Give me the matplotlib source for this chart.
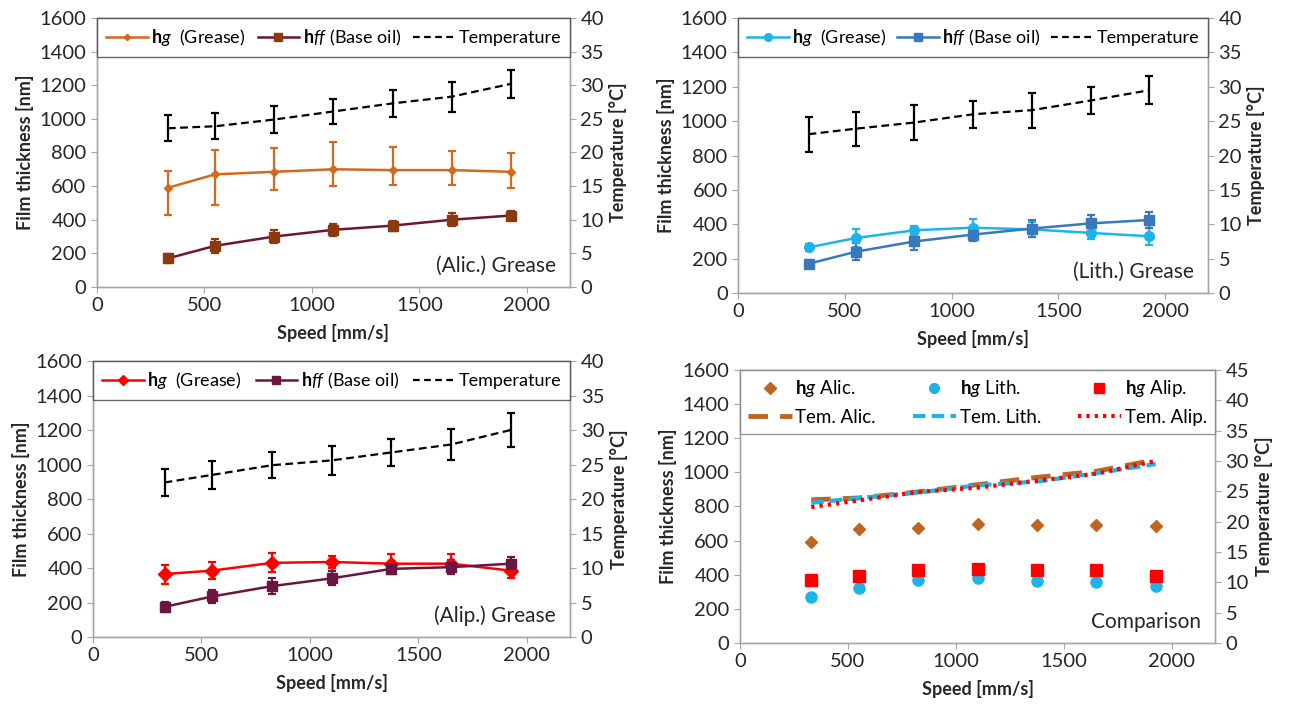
import matplotlib
matplotlib.use("Agg")
import matplotlib.pyplot as plt
from matplotlib.lines import Line2D

plt.rcParams['font.family'] = ['Lato', 'DejaVu Sans']
plt.rcParams['mathtext.fontset'] = 'custom'
plt.rcParams['mathtext.rm'] = 'Lato'
plt.rcParams['mathtext.it'] = 'Lato:italic'
plt.rcParams['mathtext.bf'] = 'Lato:bold'

# speeds [mm/s]
speed = [330, 550, 825, 1100, 1375, 1650, 1925]

# (Alic.) grease
alic_hg = [590, 670, 685, 700, 695, 695, 685]
alic_hg_lo = [160, 180, 110, 100, 90, 90, 95]
alic_hg_hi = [100, 145, 140, 160, 140, 115, 110]
alic_hff = [170, 245, 300, 340, 365, 400, 425]
alic_hff_err = [25, 40, 40, 35, 30, 40, 25]
alic_temp = [23.6, 23.9, 24.9, 26.1, 27.3, 28.3, 30.2]
alic_temp_err = [1.9, 1.9, 2.0, 1.8, 2.05, 2.25, 2.1]

# (Lith.) grease
lith_hg = [265, 320, 365, 380, 370, 350, 330]
lith_hg_err = [20, 50, 25, 50, 45, 35, 50]
lith_hff = [170, 240, 300, 340, 375, 405, 425]
lith_hff_err = [20, 50, 50, 35, 50, 50, 45]
lith_temp = [23.1, 23.9, 24.8, 26.0, 26.6, 28.0, 29.5]
lith_temp_err = [2.55, 2.5, 2.5, 2.0, 2.55, 2.0, 2.0]

# (Alip.) grease
alip_hg = [365, 385, 430, 435, 425, 425, 385]
alip_hg_err = [55, 50, 55, 35, 55, 55, 40]
alip_hff = [175, 235, 295, 340, 395, 405, 425]
alip_hff_err = [30, 35, 45, 40, 30, 40, 40]
alip_temp = [22.4, 23.5, 24.9, 25.6, 26.75, 27.9, 30.0]
alip_temp_err = [1.9, 2.05, 1.9, 2.05, 2.0, 2.2, 2.4]

# comparison panel
cmp_alic = [590, 670, 675, 700, 690, 690, 685]
cmp_lith = [270, 325, 370, 380, 365, 355, 335]
cmp_alip = [370, 390, 430, 435, 425, 430, 390]

GRID = '#A6A6A6'
TXT = '#262626'
HG = r'$\mathbf{h}\mathit{g}$'
HFF = r'$\mathbf{h}\mathit{ff}$'

fig = plt.figure(figsize=(12.91, 7.10), dpi=100)


def style_axes(ax, ax2, tmax):
    ax.set_xlim(0, 2200)
    ax.set_ylim(0, 1600)
    ax.set_xticks([0, 500, 1000, 1500, 2000])
    ax.set_yticks(range(0, 1601, 200))
    ax2.set_ylim(0, tmax)
    ax2.set_yticks(range(0, tmax + 1, 5))
    for a in (ax, ax2):
        for s in a.spines.values():
            s.set_color(GRID)
            s.set_linewidth(1.0)
        a.tick_params(direction='out', length=4, color=GRID, labelsize=14.5, labelcolor=TXT)
    ax.set_xlabel('Speed [mm/s]', fontsize=13, fontweight='bold', color=TXT, labelpad=7)
    ax.set_ylabel('Film thickness [nm]', fontsize=13, fontweight='bold', color=TXT, labelpad=4)
    ax2.set_ylabel('Temperature [°C]', fontsize=13, fontweight='bold', color=TXT, labelpad=4)


def grease_panel(rect, hg, hg_err, hff, hff_err, temp, temp_err, c_hg, m_hg, ms_hg,
                 c_hff, c_hff_m, label):
    ax = fig.add_axes(rect)
    ax2 = ax.twinx()
    ax.errorbar(speed, hg, yerr=hg_err, color=c_hg, marker=m_hg, ms=ms_hg, lw=1.8,
                elinewidth=1.6, capsize=3, capthick=1.6, zorder=3)
    ax.errorbar(speed, hff, yerr=hff_err, color=c_hff, marker='s', ms=7, mfc=c_hff_m,
                mec=c_hff_m, ecolor=c_hff_m, lw=1.8, elinewidth=1.6, capsize=3,
                capthick=1.6, zorder=3)
    ax2.errorbar(speed, temp, yerr=temp_err, color='black', ls=(0, (3.5, 2)), lw=1.6,
                 elinewidth=1.6, capsize=3, capthick=1.6)
    style_axes(ax, ax2, 40)
    handles = [
        Line2D([], [], color=c_hg, marker=m_hg, ms=ms_hg * 0.8, lw=1.8),
        Line2D([], [], color=c_hff, marker='s', ms=6, mfc=c_hff_m, mec=c_hff_m, lw=1.8),
        Line2D([], [], color='black', ls=(0, (3, 2)), lw=1.6),
    ]
    labels = [HG + '  (Grease)', HFF + ' (Base oil)', 'Temperature']
    leg = ax2.legend(handles, labels, loc='upper left', bbox_to_anchor=(0, 0, 1, 1),
                     mode='expand', ncol=3, fontsize=13, frameon=True, fancybox=False,
                     borderaxespad=0, handlelength=2.3, handletextpad=0.2,
                     columnspacing=0.5, borderpad=0.5)
    leg.get_frame().set_edgecolor('#404040')
    leg.get_frame().set_linewidth(1.0)
    ax2.text(0.97, 0.04, label, transform=ax2.transAxes, ha='right', va='bottom',
             fontsize=15, color=TXT)
    return ax, ax2


grease_panel([0.0751, 0.5958, 0.3664, 0.3789], alic_hg, [alic_hg_lo, alic_hg_hi],
             alic_hff, alic_hff_err, alic_temp, alic_temp_err,
             '#D2691E', 'D', 4, '#6E1437', '#8B3A0E', '(Alic.) Grease')
grease_panel([0.5717, 0.5873, 0.3640, 0.3873], lith_hg, lith_hg_err,
             lith_hff, lith_hff_err, lith_temp, lith_temp_err,
             '#1EB4EA', 'o', 7, '#3A78BC', '#3A78BC', '(Lith.) Grease')
grease_panel([0.0720, 0.1028, 0.3697, 0.3887], alip_hg, alip_hg_err,
             alip_hff, alip_hff_err, alip_temp, alip_temp_err,
             '#FF0000', 'D', 7, '#6B1640', '#6B1640', '(Alip.) Grease')

# comparison panel
ax = fig.add_axes([0.5732, 0.0944, 0.3680, 0.3845])
ax2 = ax.twinx()
ax.plot(speed, cmp_alic, ls='none', marker='D', ms=6, color='#C0651F')
ax.plot(speed, cmp_lith, ls='none', marker='o', ms=8, color='#1EB4EA')
ax.plot(speed, cmp_alip, ls='none', marker='s', ms=8, color='#FF0000')
ax2.plot(speed, alic_temp, color='#C0651F', ls=(0, (4, 2.5)), lw=3.5)
ax2.plot(speed, lith_temp, color='#1EB4EA', ls=(0, (3, 1.5)), lw=3)
ax2.plot(speed, alip_temp, color='#FF0000', ls=(0, (0.8, 1.2)), lw=3)
style_axes(ax, ax2, 45)
handles = [
    Line2D([], [], ls='none', marker='D', ms=6, color='#C0651F'),
    Line2D([], [], color='#C0651F', ls=(0, (4, 2.5)), lw=3.5),
    Line2D([], [], ls='none', marker='o', ms=7, color='#1EB4EA'),
    Line2D([], [], color='#1EB4EA', ls=(0, (3, 1.5)), lw=3),
    Line2D([], [], ls='none', marker='s', ms=7, color='#FF0000'),
    Line2D([], [], color='#FF0000', ls=(0, (0.8, 1.2)), lw=3),
]
labels = [HG + ' Alic.', 'Tem. Alic.', HG + ' Lith.', 'Tem. Lith.', HG + ' Alip.', 'Tem. Alip.']
leg = ax2.legend(handles, labels, loc='upper left', bbox_to_anchor=(0, 0, 1, 1),
                 mode='expand', ncol=3, fontsize=13.5, frameon=True, fancybox=False,
                 borderaxespad=0, handlelength=2.3, handletextpad=0.2,
                 columnspacing=0.5, borderpad=0.45, labelspacing=0.5)
leg.get_frame().set_edgecolor('#808080')
leg.get_frame().set_linewidth(1.0)
ax2.text(0.97, 0.04, 'Comparison', transform=ax2.transAxes, ha='right', va='bottom',
         fontsize=15, color=TXT)

fig.savefig('out.png', dpi=100)
